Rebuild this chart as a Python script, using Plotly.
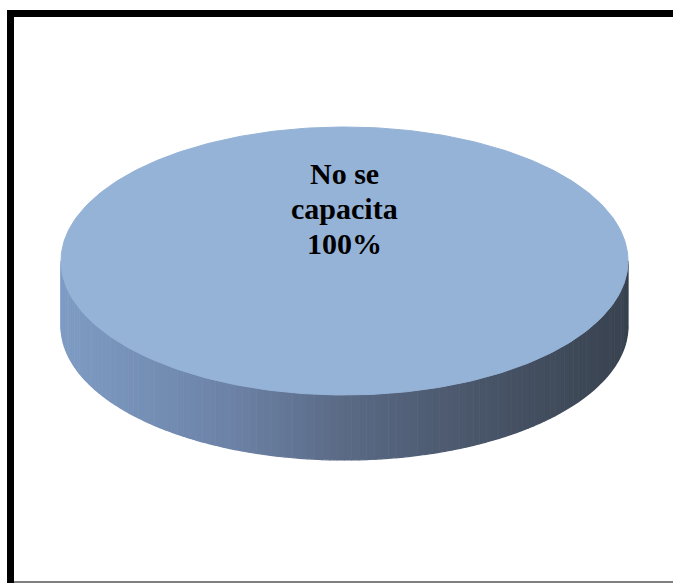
import numpy as np
import plotly.graph_objects as go

# ---- data ----
labels = ["No se capacita"]
values = [100]
label_lines = ["No se", "capacita"]

# ---- geometry / style (pixel space) ----
W, H = 673, 583
cx, cy = 344.5, 261.0
rx, ry = 283.5, 134.0
depth = 65.0
top_color = "#95B3D7"
side_stops = [(0.0, (126, 156, 196)), (0.3, (108, 130, 166)), (0.5, (90, 106, 133)),
              (0.75, (72, 84, 104)), (1.0, (56, 66, 79))]
line_y = [173, 208, 243]

def side_col(t):
    for (t0, c0), (t1, c1) in zip(side_stops[:-1], side_stops[1:]):
        if t0 <= t <= t1:
            f = (t - t0) / (t1 - t0)
            c = [round(a + (b - a) * f) for a, b in zip(c0, c1)]
            return "rgb(%d,%d,%d)" % tuple(c)
    return "rgb(%d,%d,%d)" % side_stops[-1][1]

total = sum(values)
fig = go.Figure()

start = 0.0
for lab, v in zip(labels, values):
    span = 2 * np.pi * v / total
    th = np.linspace(start, start + span, 361)
    n = 120
    front = np.linspace(0, np.pi, n + 1)
    for i in range(n):
        a0, a1 = front[i], front[i + 1]
        a = np.linspace(a0, a1, 4)
        a = a[(a >= start - 1e-9) & (a <= start + span + 1e-9)]
        if len(a) < 2:
            continue
        xs = cx + rx * np.cos(a)
        ys_top = cy + ry * np.sin(a)
        ys_bot = ys_top + depth
        px = np.concatenate([xs, xs[::-1]])
        py = np.concatenate([ys_top, ys_bot[::-1]])
        xm = xs.mean()
        t = (xm - (cx - rx)) / (2 * rx)
        col = side_col(t)
        fig.add_trace(go.Scatter(x=px, y=py, mode="lines", fill="toself",
                                 fillcolor=col, line=dict(color=col, width=1.2),
                                 hoverinfo="skip", showlegend=False))
    full = span >= 2 * np.pi - 1e-9
    xt = np.concatenate([[] if full else [cx], cx + rx * np.cos(th)])
    yt = np.concatenate([[] if full else [cy], cy + ry * np.sin(th)])
    fig.add_trace(go.Scatter(x=xt, y=yt, mode="lines", fill="toself",
                             fillcolor=top_color, line=dict(color=top_color, width=1),
                             name=lab, hoverinfo="name", showlegend=False))
    pct = round(100 * v / total)
    for txt, yy in zip(label_lines + [f"{pct}%"], line_y):
        fig.add_annotation(x=cx, y=yy, xref="x", yref="y", yanchor="middle",
                           text="<b>" + txt + "</b>",
                           showarrow=False, align="center",
                           font=dict(family="Liberation Serif", size=30, color="black"))
    start += span

fig.add_shape(type="rect", xref="x", yref="y", x0=10.5, y0=13.5, x1=700, y1=620,
              line=dict(color="black", width=7))
fig.add_shape(type="line", xref="x", yref="y", x0=14, y0=582, x1=673, y1=582,
              line=dict(color="#555555", width=1.5))

fig.update_layout(
    width=W, height=H, margin=dict(l=0, r=0, t=0, b=0),
    paper_bgcolor="white", plot_bgcolor="white",
    xaxis=dict(range=[0, W], visible=False, fixedrange=True),
    yaxis=dict(range=[H, 0], visible=False, fixedrange=True),
)
fig.write_html("out.html")
